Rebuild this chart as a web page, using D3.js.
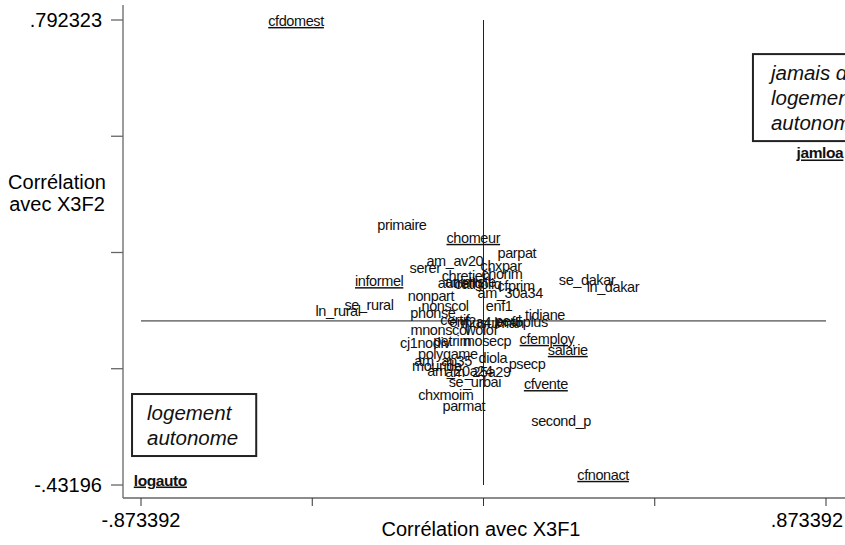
<!DOCTYPE html>
<html>
<head>
<meta charset="utf-8">
<script src="https://cdn.jsdelivr.net/npm/d3@7"></script>
<style>
    body { margin: 0; background: #fff; }
    svg { display: block; font-family: "Liberation Sans", Arial, sans-serif; }
</style>
</head>
<body>
<svg width="845" height="545"></svg>
<script>
    // variable labels and their coordinates on the two factors
    const names = ["cfdomest", "jamloa", "logauto", "cfnonact", "second_p", "cfvente", "parmat", "chxmoim",
        "se_urbai", "psecp", "diola", "salarie", "cfemploy", "polygame", "cj1nodiv", "patrim", "mosecp",
        "am_ap35", "mouride", "am_20a24", "am_25a29", "mnonscol", "wolof", "certif", "enf2a4", "musulman",
        "peul", "enf5plus", "tidiane", "enf1", "nonscol", "phonse", "ln_rural", "se_rural", "nonpart",
        "informel", "serer", "am_av20", "primaire", "chomeur", "parpat", "chxpar", "chorim", "chretien",
        "autrelig", "animiste", "catholiq", "cfprim", "am_30a34", "se_dakar", "ln_dakar"];
    const f1 = [-0.478, 0.858, -0.824, 0.305, 0.198, 0.159, -0.050, -0.096,
        -0.022, 0.111, 0.024, 0.215, 0.162, -0.091, -0.149, -0.080, 0.009,
        -0.103, -0.119, -0.060, -0.014, -0.111, -0.006, -0.073, -0.034, 0.022,
        0.062, 0.098, 0.157, 0.040, -0.098, -0.129, -0.371, -0.292, -0.134,
        -0.266, -0.149, -0.073, -0.208, -0.026, 0.085, 0.045, 0.047, -0.045,
        -0.060, -0.034, -0.014, 0.083, 0.068, 0.264, 0.330];
    const f2 = [0.790, 0.442, -0.419, -0.405, -0.263, -0.166, -0.224, -0.195,
        -0.161, -0.113, -0.097, -0.076, -0.047, -0.087, -0.058, -0.053, -0.053,
        -0.105, -0.118, -0.132, -0.134, -0.024, -0.024, 0.003, -0.003, -0.005,
        0.000, -0.003, 0.016, 0.039, 0.039, 0.021, 0.026, 0.042, 0.066,
        0.105, 0.140, 0.158, 0.253, 0.219, 0.179, 0.145, 0.124, 0.118,
        0.100, 0.103, 0.097, 0.092, 0.074, 0.108, 0.090];
    const underlined = ["cfdomest", "jamloa", "logauto", "cfnonact", "cfvente", "salarie", "cfemploy", "informel", "chomeur"];
    const boldNames = ["jamloa", "logauto"];

    // boxed notes placed in the plot
    const noteLines = [["logement", "autonome"], ["jamais de", "logement", "autonome"]];
    const noteX = [-0.858, 0.733];
    const noteY = [-0.242, 0.653];

    const xTicks = [-0.873392, -0.436696, 0, 0.436696, 0.873392];
    const yTicks = [-0.43196, -0.1258, 0.180182, 0.486253, 0.792323];
    const xTickLabels = ["-.873392", ".873392"];
    const yTickLabels = ["-.43196", ".792323"];

    const svg = d3.select("svg");
    const x = d3.scaleLinear().domain([-0.873392, 0.873392]).range([141, 826]);
    const y = d3.scaleLinear().domain([-0.43196, 0.792323]).range([485, 20]);
    const left = 123, bottom = 498;
    const axisCol = "#666";

    // axis frame
    svg.append("line").attr("x1", left).attr("x2", left).attr("y1", 5).attr("y2", bottom)
        .attr("stroke", axisCol).attr("stroke-width", 1.3);
    svg.append("line").attr("x1", left).attr("x2", 845).attr("y1", bottom).attr("y2", bottom)
        .attr("stroke", axisCol).attr("stroke-width", 1.3);

    svg.selectAll(".ytick").data(yTicks).enter().append("line")
        .attr("x1", left - 12).attr("x2", left)
        .attr("y1", d => y(d)).attr("y2", d => y(d))
        .attr("stroke", axisCol).attr("stroke-width", 1.3);
    svg.selectAll(".xtick").data(xTicks).enter().append("line")
        .attr("x1", d => x(d)).attr("x2", d => x(d))
        .attr("y1", bottom).attr("y2", bottom + 8)
        .attr("stroke", "#333").attr("stroke-width", 1);

    svg.append("text").attr("x", left - 21).attr("y", y(yTicks[4])).attr("dy", "0.35em")
        .attr("text-anchor", "end").attr("font-size", 20).text(yTickLabels[1]);
    svg.append("text").attr("x", left - 21).attr("y", y(yTicks[0])).attr("dy", "0.35em")
        .attr("text-anchor", "end").attr("font-size", 20).text(yTickLabels[0]);
    svg.append("text").attr("x", x(xTicks[0])).attr("y", 527)
        .attr("text-anchor", "middle").attr("font-size", 20).text(xTickLabels[0]);
    svg.append("text").attr("x", 843).attr("y", 527)
        .attr("text-anchor", "end").attr("font-size", 20).text(xTickLabels[1]);

    // axis titles
    svg.append("text").attr("x", 481).attr("y", 536).attr("text-anchor", "middle")
        .attr("font-size", 20).text("Corrélation avec X3F1");
    svg.append("text").attr("x", 57).attr("y", 189).attr("text-anchor", "middle")
        .attr("font-size", 20).text("Corrélation");
    svg.append("text").attr("x", 57).attr("y", 211).attr("text-anchor", "middle")
        .attr("font-size", 20).text("avec X3F2");

    // reference lines at zero
    svg.append("line").attr("x1", x(0)).attr("x2", x(0)).attr("y1", y(0.792323)).attr("y2", y(-0.43196))
        .attr("stroke", "#222").attr("stroke-width", 1);
    svg.append("line").attr("x1", x(-0.873392)).attr("x2", x(0.873392)).attr("y1", y(0)).attr("y2", y(0))
        .attr("stroke", "#222").attr("stroke-width", 1);

    // point labels
    const pts = names.map((n, i) => ({name: n, f1: f1[i], f2: f2[i]}));
    svg.selectAll(".lab").data(pts).enter().append("text")
        .attr("x", d => x(d.f1)).attr("y", d => y(d.f2)).attr("dy", "0.35em")
        .attr("text-anchor", "middle")
        .attr("font-size", d => boldNames.includes(d.name) ? 15.5 : 14.5)
        .attr("letter-spacing", -0.4)
        .attr("fill", "#111")
        .attr("font-weight", d => boldNames.includes(d.name) ? "bold" : "normal")
        .attr("text-decoration", d => underlined.includes(d.name) ? "underline" : "none")
        .text(d => d.name);

    // notes in boxes
    noteLines.forEach(function(lines, k) {
        const g = svg.append("g");
        g.selectAll("text").data(lines).enter().append("text")
            .attr("x", x(noteX[k])).attr("y", (d, i) => y(noteY[k]) + i * 25).attr("dy", "0.35em")
            .attr("font-size", 20.5).attr("font-style", "italic").attr("fill", "#111")
            .text(d => d);
        const bb = g.node().getBBox();
        g.insert("rect", "text")
            .attr("x", bb.x - 15).attr("y", bb.y - 7)
            .attr("width", bb.width + 33).attr("height", bb.height + 14)
            .attr("fill", "none").attr("stroke", "#222").attr("stroke-width", 2);
    });
</script>
</body>
</html>
